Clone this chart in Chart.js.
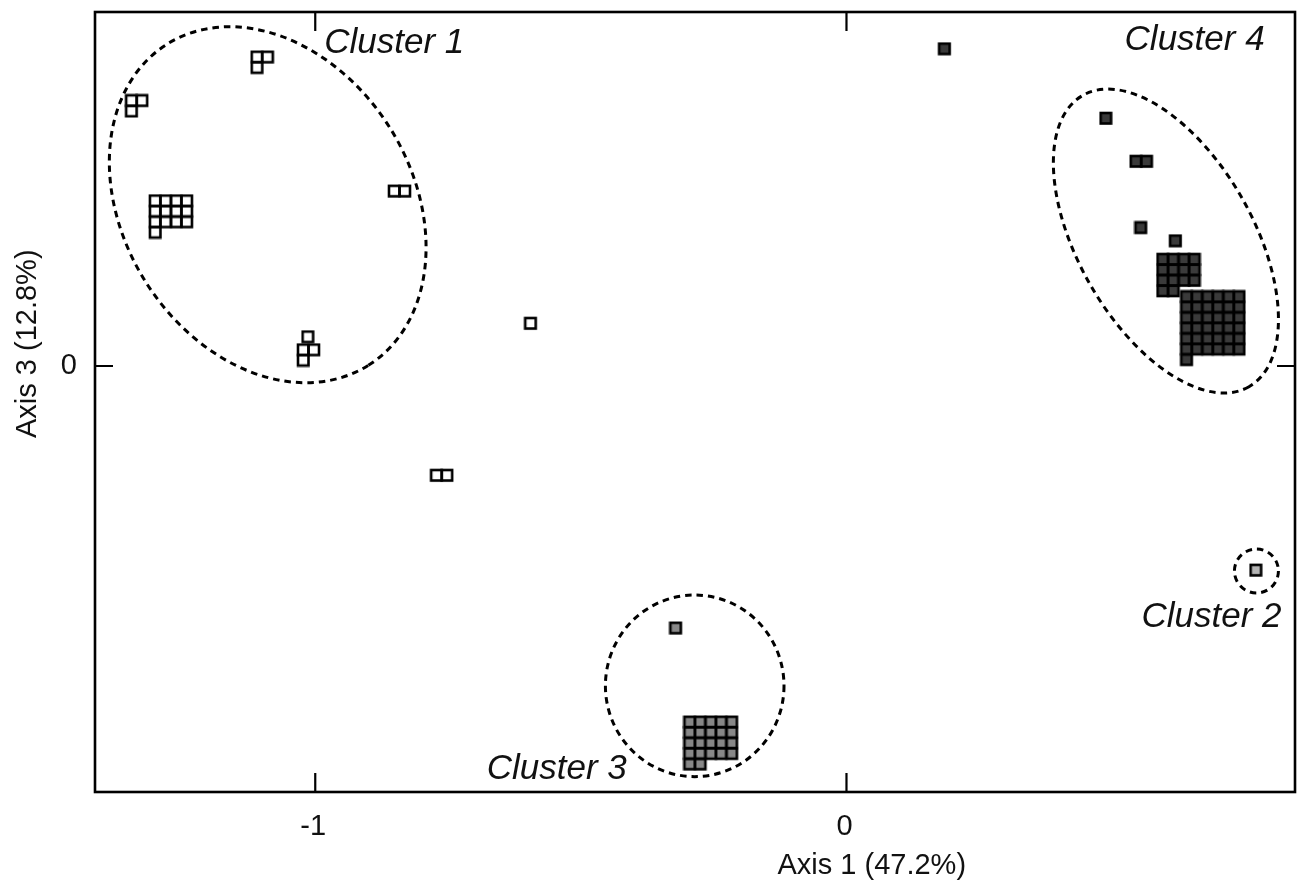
<!DOCTYPE html>
<html>
<head>
<meta charset="utf-8">
<title>Clusters</title>
<script src="https://cdn.jsdelivr.net/npm/chart.js@4.4.1/dist/chart.umd.min.js"></script>
<style>
    body{ margin:0; background:#fff; }
    .wrap{ width:1302px; height:889px; position:relative; }
</style>
</head>
<body>
<div class="wrap"><canvas id="myChart" width="1302" height="889"></canvas></div>
<script>
// stacked observations: position of each stack and how many sit there
const whiteX = [-1.0998, -1.3362, -1.2717, -0.8415, -1.0135, -1.0128, -0.5944, -0.7621]
const whiteY = [0.570, 0.4882, 0.2805, 0.3278, 0.0544, 0.0206, 0.0797, -0.2054]
const whiteN = [3, 3, 13, 2, 1, 3, 1, 2]

const darkX = [0.1848, 0.4887, 0.5548, 0.5544, 0.6195, 0.6251, 0.6895]
const darkY = [0.5947, 0.4644, 0.3837, 0.2593, 0.2345, 0.1707, 0.0707]
const darkN = [1, 1, 2, 1, 1, 14, 37]

const grayX = [-0.3212, -0.2552]
const grayY = [-0.4919, -0.7077]
const grayN = [1, 22]

const lightX = [0.7711]
const lightY = [-0.3833]
const lightN = [1]

const xTicks = [-1, 0]
const yTicks = [0]
const xRange = [-1.4146, 0.8443]
const yRange = [-0.7992, 0.6642]

const clusterNames = ['Cluster 1', 'Cluster 2', 'Cluster 3', 'Cluster 4']
const labelX = [-0.9831, 0.5553, -0.6773, 0.5235]
const labelY = [0.5872, -0.4897, -0.7749, 0.5929]
const ringX = [-1.0895, 0.7717, -0.2857, 0.6013]
const ringY = [0.3026, -0.3846, -0.6, 0.2345]

// ring shapes in px: semi axis a, semi axis b, rotation deg
const ringShape = [[189.5, 144.4, 58], [22, 22, 0], [89.3, 90.8, 0], [167.7, 87.4, 60.3]]

const CELL = 10.5
const FONT = '"Liberation Sans", Arial, sans-serif'

function stackImage(n, fill){
    const cols = n === 1 ? 1 : Math.max(2, Math.round(Math.sqrt(n)))
    const rows = Math.ceil(n / cols)
    const c = document.createElement('canvas')
    c.width = Math.ceil(cols * CELL + 4)
    c.height = Math.ceil(rows * CELL + 4)
    const g = c.getContext('2d')
    g.lineWidth = 2.6
    g.strokeStyle = '#000'
    g.fillStyle = fill
    for(let i = 0; i < n; i++){
        const cx = 2 + (i % cols) * CELL
        const cy = 2 + Math.floor(i / cols) * CELL
        g.fillRect(cx, cy, CELL, CELL)
    }
    for(let i = 0; i < n; i++){
        const cx = 2 + (i % cols) * CELL
        const cy = 2 + Math.floor(i / cols) * CELL
        g.strokeRect(cx, cy, CELL, CELL)
    }
    return c
}

function makeSet(label, xs, ys, ns, fill){
    return {
        label: label,
        data: xs.map((v, i) => ({x: v, y: ys[i]})),
        pointStyle: ns.map(n => stackImage(n, fill)),
        pointRadius: 6
    }
}

const decor = {
    id: 'decor',
    beforeDatasetsDraw(chart){
        const ctx = chart.ctx
        const x = chart.scales.x, y = chart.scales.y
        ctx.save()
        ctx.setLineDash([6.5, 5])
        ctx.lineWidth = 3
        ctx.strokeStyle = '#000'
        ringX.forEach((v, i) => {
            const s = ringShape[i]
            ctx.beginPath()
            ctx.ellipse(x.getPixelForValue(v), y.getPixelForValue(ringY[i]), s[0], s[1], s[2] * Math.PI / 180, 0, Math.PI * 2)
            ctx.stroke()
        })
        ctx.restore()
    },
    afterDraw(chart){
        const ctx = chart.ctx
        const a = chart.chartArea
        const x = chart.scales.x, y = chart.scales.y
        ctx.save()
        ctx.strokeStyle = '#000'
        ctx.lineWidth = 2.6
        ctx.strokeRect(a.left, a.top, a.right - a.left, a.bottom - a.top)
        ctx.lineWidth = 2.2
        ctx.beginPath()
        xTicks.forEach(v => {
            const p = x.getPixelForValue(v)
            ctx.moveTo(p, a.bottom); ctx.lineTo(p, a.bottom - 19)
            ctx.moveTo(p, a.top); ctx.lineTo(p, a.top + 19)
        })
        yTicks.forEach(v => {
            const p = y.getPixelForValue(v)
            ctx.moveTo(a.left, p); ctx.lineTo(a.left + 18, p)
            ctx.moveTo(a.right, p); ctx.lineTo(a.right - 18, p)
        })
        ctx.stroke()

        ctx.fillStyle = '#111'
        // tick labels
        ctx.font = '29px ' + FONT
        ctx.textAlign = 'center'
        ctx.textBaseline = 'alphabetic'
        xTicks.forEach(v => {
            ctx.fillText(String(v), x.getPixelForValue(v) - 2, a.bottom + 43)
        })
        ctx.textAlign = 'right'
        ctx.textBaseline = 'middle'
        yTicks.forEach(v => {
            ctx.fillText(String(v), a.left - 18, y.getPixelForValue(v))
        })

        // cluster names
        ctx.font = 'italic 35px ' + FONT
        ctx.textAlign = 'left'
        ctx.textBaseline = 'alphabetic'
        clusterNames.forEach((t, i) => {
            ctx.fillText(t, x.getPixelForValue(labelX[i]), y.getPixelForValue(labelY[i]))
        })

        // axis titles
        ctx.font = '29px ' + FONT
        ctx.textAlign = 'left'
        ctx.textBaseline = 'middle'
        ctx.fillText('Axis 1 (47.2%)', x.getPixelForValue(0) - 69, a.bottom + 74)
        ctx.translate(28, y.getPixelForValue(0) + 72)
        ctx.rotate(-Math.PI / 2)
        ctx.fillText('Axis 3 (12.8%)', 0, 0)
        ctx.restore()
    }
}

const ctx = document.getElementById('myChart')

const chart = new Chart(ctx, {
    type: 'scatter',
    data: {
        datasets: [
            makeSet('white', whiteX, whiteY, whiteN, '#ffffff'),
            makeSet('dark', darkX, darkY, darkN, '#3a3a3a'),
            makeSet('gray', grayX, grayY, grayN, '#888888'),
            makeSet('light', lightX, lightY, lightN, '#b4b4b4')
        ]
    },
    options: {
        responsive: false,
        animation: false,
        devicePixelRatio: 1,
        layout: { padding: { top: 12, right: 3, left: 0, bottom: 0 } },
        plugins: {
            legend: { display: false },
            tooltip: { enabled: false }
        },
        scales: {
            x: {
                type: 'linear',
                min: xRange[0],
                max: xRange[1],
                grid: { display: false, drawTicks: false, tickLength: 0 },
                border: { display: false },
                afterBuildTicks: s => { s.ticks = xTicks.map(v => ({value: v})) },
                afterFit: s => { s.height = 97 },
                ticks: { display: false }
            },
            y: {
                type: 'linear',
                min: yRange[0],
                max: yRange[1],
                grid: { display: false, drawTicks: false, tickLength: 0 },
                border: { display: false },
                afterBuildTicks: s => { s.ticks = yTicks.map(v => ({value: v})) },
                afterFit: s => { s.width = 95 },
                ticks: { display: false }
            }
        }
    },
    plugins: [decor]
})
</script>
</body>
</html>
